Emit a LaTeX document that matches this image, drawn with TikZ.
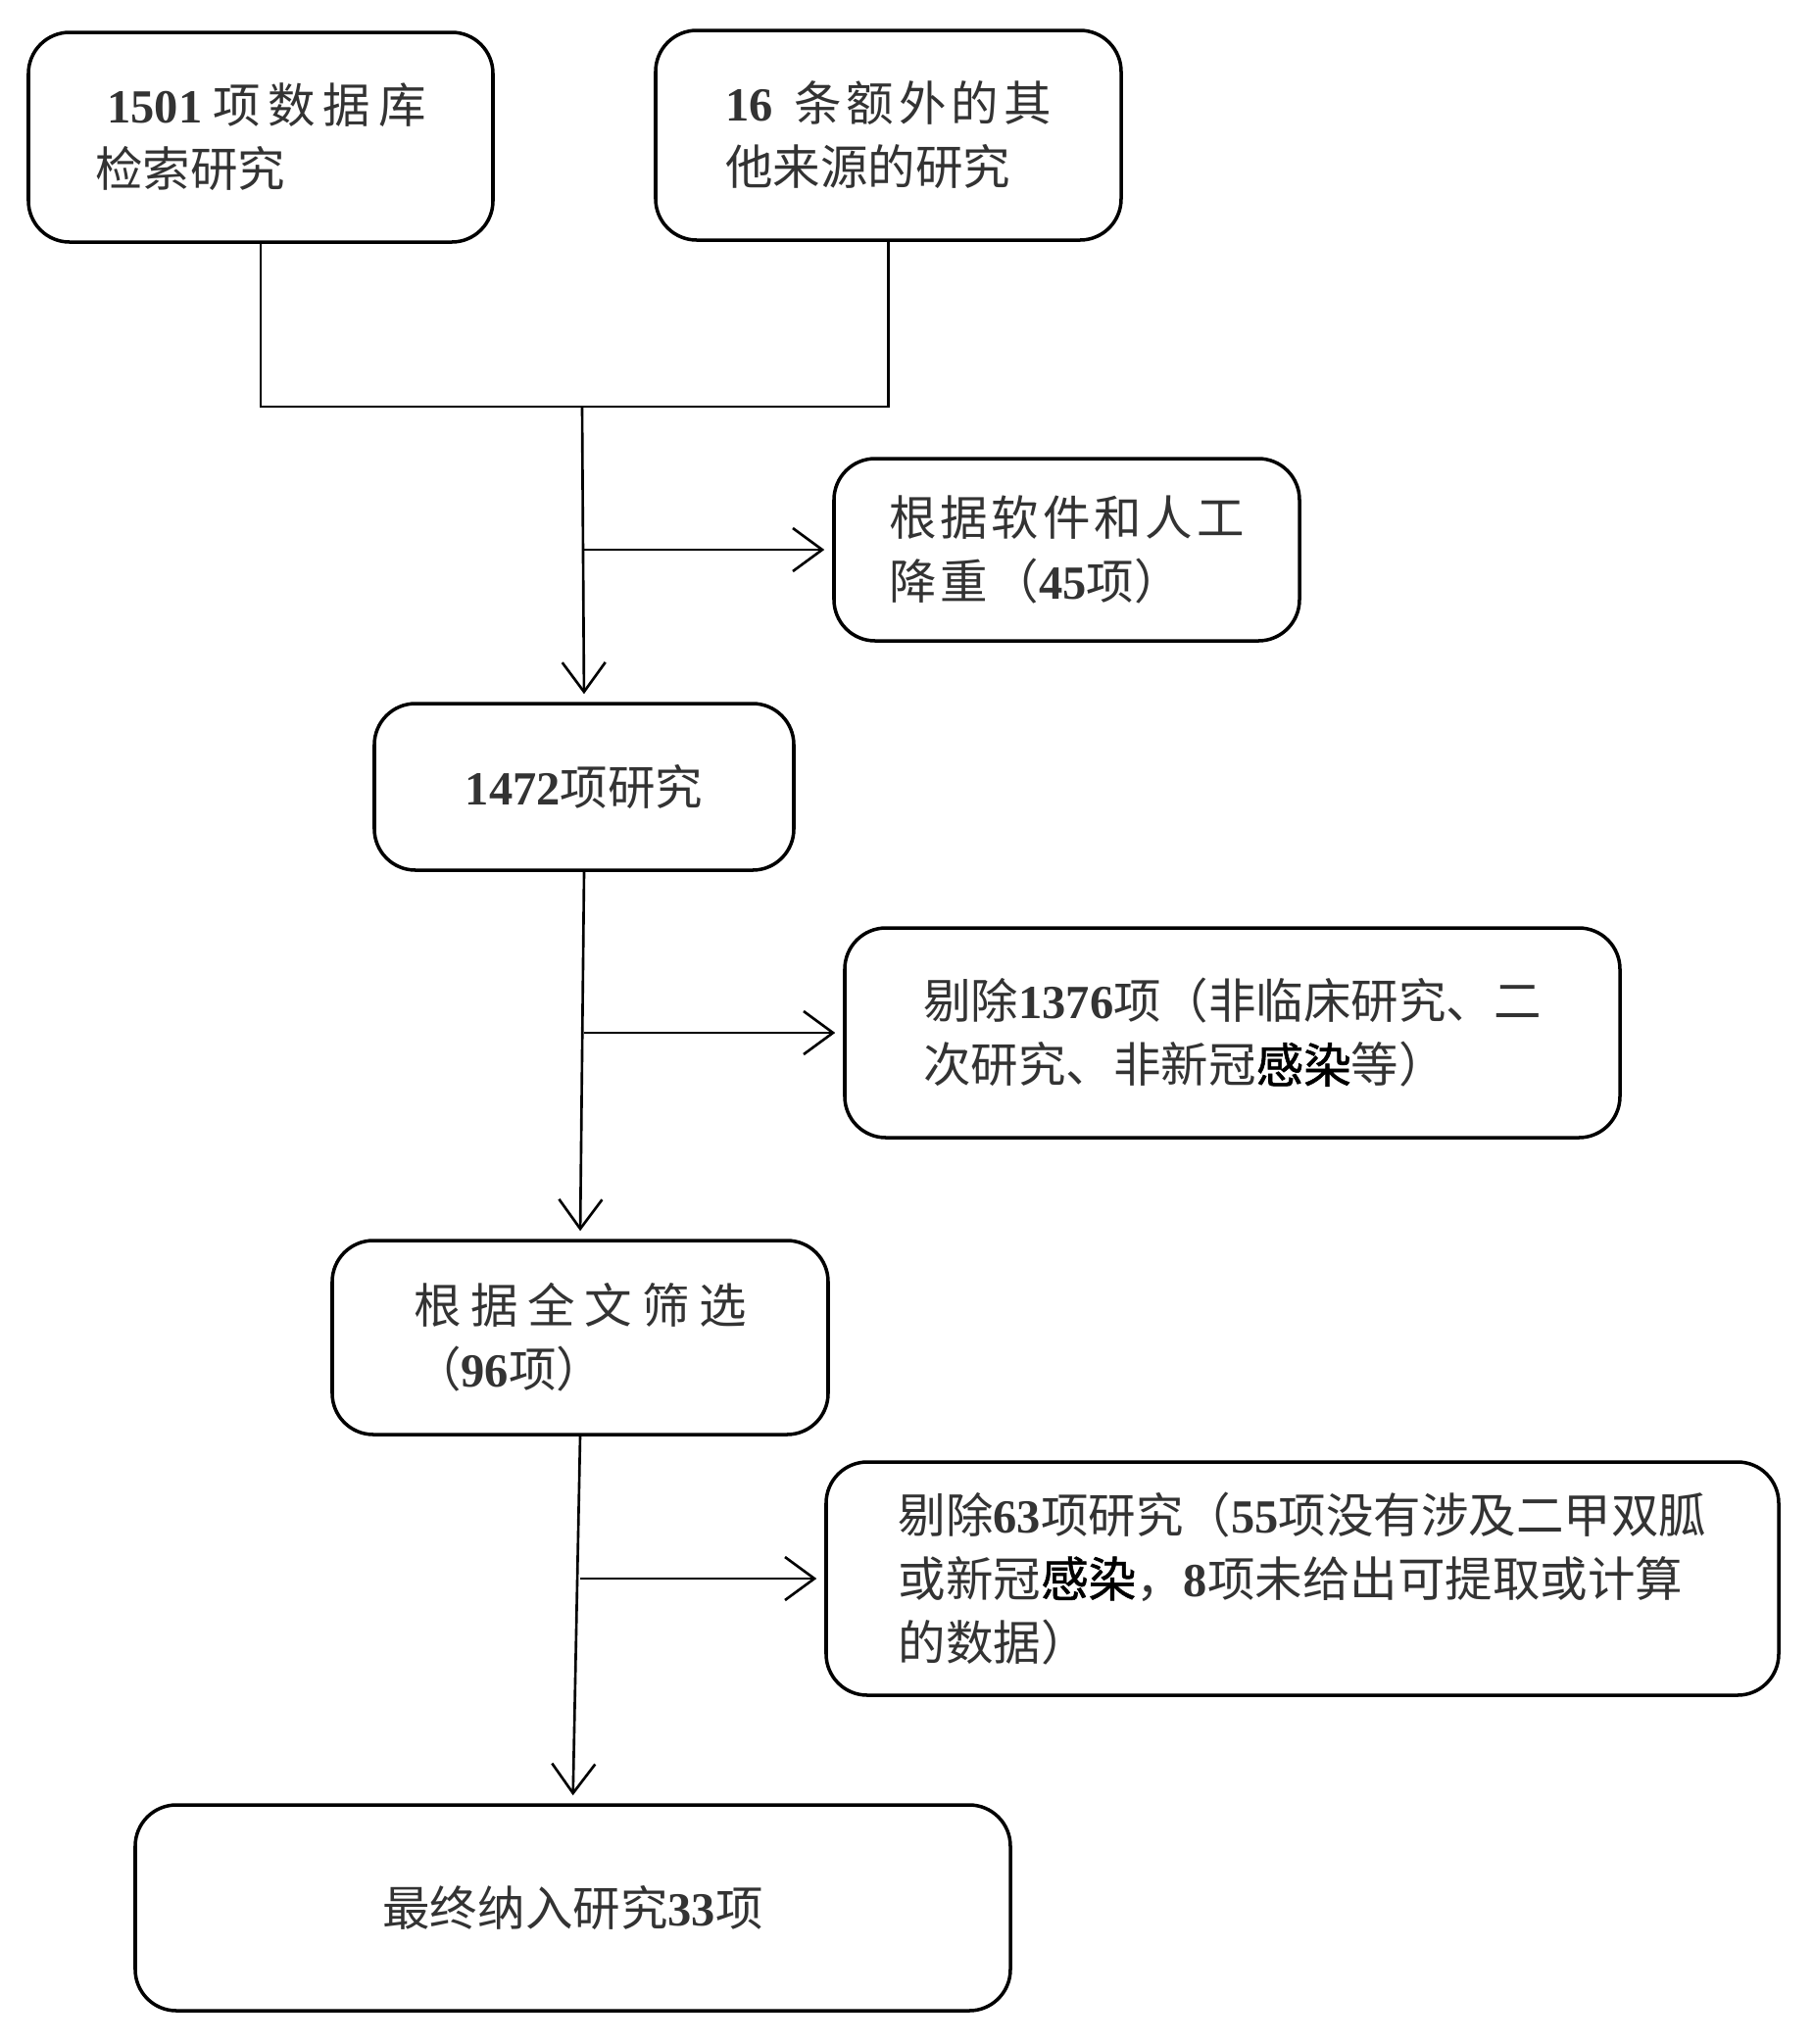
\documentclass[tikz,border=0pt]{standalone}
\usepackage{fontspec}
\setmainfont{Noto Sans CJK SC}
\newfontfamily\numfont{Liberation Serif}
\usetikzlibrary{arrows.meta,calc}
\newcommand{\shu}[1]{{\numfont\bfseries #1}}
\newcommand{\kuan}[2]{{\addfontfeature{LetterSpace=#1}#2}}
\newcommand{\ganran}{{\color{black}\addfontfeature{FakeBold=1.2}感染}}
\tikzstyle{box}=[draw, line width=1pt, rounded corners=0.42cm, align=left, inner sep=0pt, text=black!80, font=\fontsize{13.8pt}{18.5pt}\selectfont]
\tikzstyle{line}=[draw, line width=0.75pt]
\tikzstyle{arrow}=[draw, line width=0.75pt, -{Straight Barb[length=3mm,width=4.4mm]}, shorten >=0.8mm]

\begin{document}
\begin{tikzpicture}
    \useasboundingbox (0,0) rectangle (18.5,-20.86);
    % First the two sources
    \node[box, minimum width=4.74cm, minimum height=2.14cm] (db) at (2.66,-1.40)
        {\hspace*{0.12cm}\shu{1501}\ \kuan{16}{项数据库}\\检索研究};
    \node[box, minimum width=4.75cm, minimum height=2.14cm] (other) at (9.065,-1.38)
        {\shu{16}\ \ \kuan{10}{条额外的其}\\他来源的研究};

    % Then the main column and the exclusions
    \node[box, minimum width=4.75cm, minimum height=1.86cm] (dedup) at (10.885,-5.61)
        {\kuan{8}{根据软件和人工}\\\kuan{8}{降重（}\shu{45}项）};
    \node[box, minimum width=4.28cm, minimum height=1.70cm] (records) at (5.96,-8.03)
        {\shu{1472}项研究};
    \node[box, minimum width=7.91cm, minimum height=2.14cm] (excl1) at (12.575,-10.54)
        {剔除\shu{1376}项（非临床研究、二\\次研究、非新冠\ganran 等）};
    \node[box, minimum width=5.06cm, minimum height=1.98cm] (fulltext) at (5.92,-13.65)
        {\kuan{20}{根据全文筛选}\\（\shu{96}项）};
    \node[box, minimum width=9.72cm, minimum height=2.38cm] (excl2) at (13.29,-16.11)
        {剔除\shu{63}项研究（\shu{55}项没有涉及二甲双胍\\或新冠\ganran ，\shu{8}项未给出可提取或计算\\的数据）};
    \node[box, minimum width=8.93cm, minimum height=2.10cm] (final) at (5.845,-19.47)
        {最终纳入研究\shu{33}项};

    % Merge the sources
    \coordinate (join) at (5.94,-4.15);
    \path[line] (db.south) |- (join) -| (other.south);
    \path[arrow] (join) -- (records.north);
    \path[arrow] (records.south) -- (fulltext.north);
    \path[arrow] (fulltext.south) -- (final.north);

    % Side arrows
    \foreach \source/ \dest in {join/dedup, records/excl1, fulltext/excl2}
        \path[arrow] (\source |- \dest.west) -- (\dest.west);
\end{tikzpicture}
\end{document}
